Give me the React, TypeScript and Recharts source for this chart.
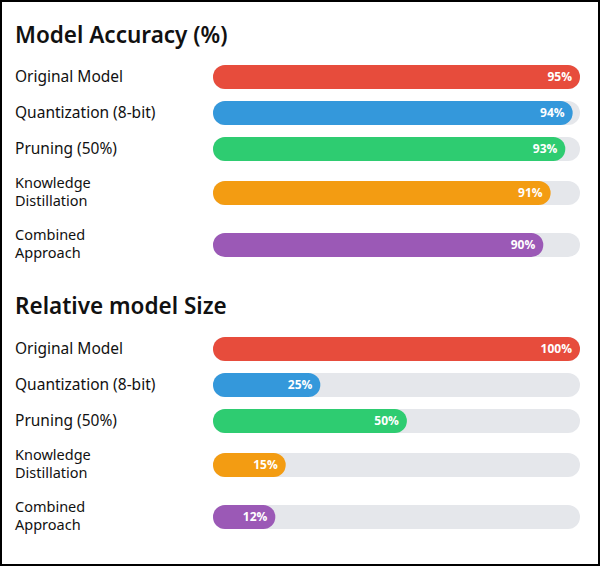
import { BarChart, Bar, XAxis, YAxis, Cell, LabelList } from 'recharts';

const methods = ['Original Model', 'Quantization (8-bit)', 'Pruning (50%)', 'Knowledge Distillation', 'Combined Approach'];
const methodLines = [['Original Model'], ['Quantization (8-bit)'], ['Pruning (50%)'], ['Knowledge', 'Distillation'], ['Combined', 'Approach']];
const accuracy = [95, 94, 93, 91, 90];
const modelSize = [100, 25, 50, 15, 12];
const colors = ['#e74c3c', '#3498db', '#2ecc71', '#f39c12', '#9b59b6'];

const accuracyDomain = [45, 95];
const sizeDomain = [-6, 100];

const labelFont = '"Noto Sans", "Open Sans", sans-serif';

function MethodTick({ y, lines }: any) {
  if (lines.length === 1) {
    return (
      <text x={15} y={y + 5} fontSize={15.5} fill="#111" fontFamily={labelFont}>
        {lines[0]}
      </text>
    );
  }
  return (
    <g>
      <text x={15} y={y - 5.5} fontSize={14.5} fill="#111" fontFamily={labelFont}>
        {lines[0]}
      </text>
      <text x={15} y={y + 12.5} fontSize={14.5} fill="#111" fontFamily={labelFont}>
        {lines[1]}
      </text>
    </g>
  );
}

// one progress row per method; two-line labels make a taller row
function Row({ index, value, domain }: any) {
  const lines = methodLines[index];
  const height = lines.length > 1 ? 52 : 36;
  const data = [{ name: methods[index], pct: value }];
  return (
    <BarChart
      width={600}
      height={height}
      data={data}
      layout="vertical"
      margin={{ top: 0, right: 20, bottom: 0, left: 0 }}
      barSize={24}
    >
      <XAxis type="number" domain={domain} hide allowDataOverflow />
      <YAxis
        type="category"
        dataKey="name"
        width={213}
        axisLine={false}
        tickLine={false}
        interval={0}
        tick={(props: any) => <MethodTick {...props} lines={lines} />}
      />
      <Bar
        dataKey={(d: any) => [domain[0], d.pct]}
        radius={12}
        background={{ fill: '#e5e7eb', radius: 12 }}
        isAnimationActive={false}
      >
        <Cell fill={colors[index]} />
        <LabelList
          dataKey="pct"
          position="insideRight"
          offset={8}
          formatter={(v: any) => `${v}%`}
          fill="#fff"
          fontSize={12}
          fontWeight={700}
          fontFamily='"Open Sans", sans-serif'
        />
      </Bar>
    </BarChart>
  );
}

function Section({ values, domain, top }: any) {
  return (
    <div style={{ position: 'absolute', left: 0, top }}>
      {values.map((v: number, i: number) => (
        <Row key={methods[i]} index={i} value={v} domain={domain} />
      ))}
    </div>
  );
}

const titleStyle: React.CSSProperties = {
  position: 'absolute',
  left: 15,
  fontFamily: labelFont,
  fontSize: 22.5,
  fontWeight: 600,
  lineHeight: '22px',
  color: '#111',
  whiteSpace: 'nowrap',
};

export default function App() {
  return (
    <div style={{ position: 'absolute', left: 0, top: 0, width: 600, height: 566, background: '#fff', overflow: 'hidden' }}>
      <div style={{ ...titleStyle, top: 24 }}>Model Accuracy (%)</div>
      <Section values={accuracy} domain={accuracyDomain} top={59} />
      <div style={{ ...titleStyle, top: 295 }}>Relative model Size</div>
      <Section values={modelSize} domain={sizeDomain} top={331} />
      <div
        style={{
          position: 'absolute',
          inset: 0,
          border: '2px solid #000',
          boxSizing: 'border-box',
          pointerEvents: 'none',
        }}
      />
    </div>
  );
}
